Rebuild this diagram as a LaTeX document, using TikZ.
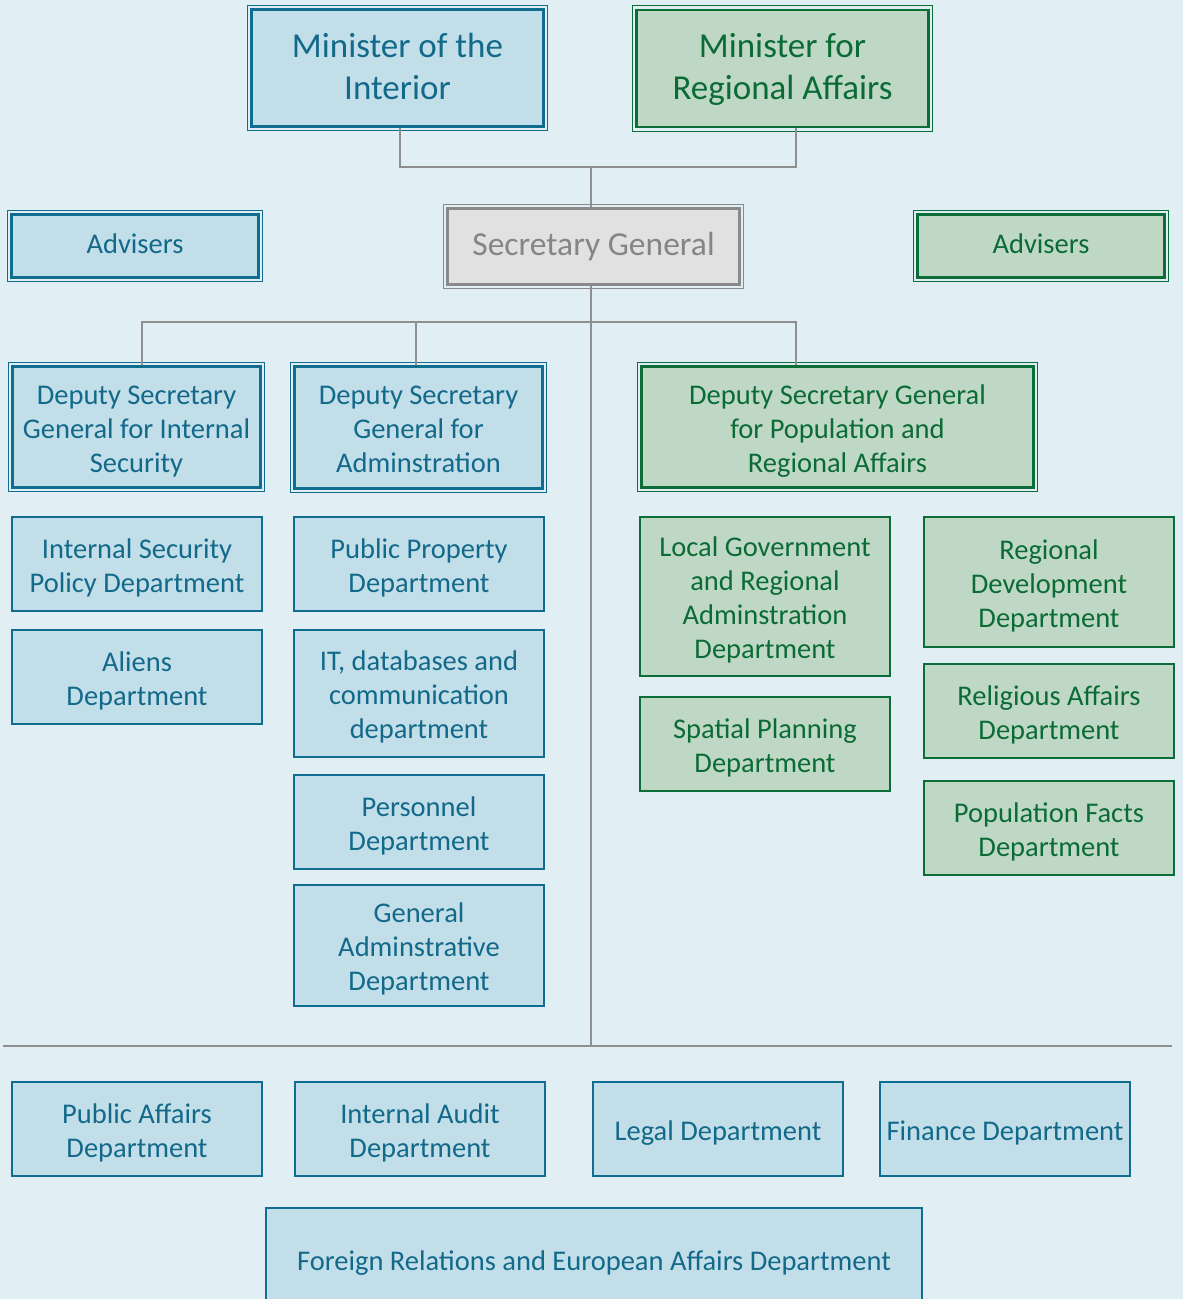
\documentclass[tikz,border=0pt]{standalone}
\usepackage{fontspec}
\setmainfont{Carlito}
\usetikzlibrary{calc}
\definecolor{bgblue}{HTML}{E1EEF4}
\definecolor{bluefill}{HTML}{C2DEE9}
\definecolor{blueline}{HTML}{0F6D8F}
\definecolor{bluetext}{HTML}{12698A}
\definecolor{greenfill}{HTML}{BFD8C6}
\definecolor{greenline}{HTML}{0B6E38}
\definecolor{greentext}{HTML}{0B6B35}
\definecolor{sgfill}{HTML}{E1E1E1}
\definecolor{sgline}{HTML}{8A8A8A}
\definecolor{sgtext}{HTML}{858585}
\definecolor{linegray}{HTML}{8F8F8F}
\tikzset{
  dept/.style={rectangle, inner sep=0pt, align=center, minimum width=250pt,
    minimum height=94pt, font=\fontsize{28.5}{34}\selectfont},
  l1/.style={text height=22pt, text depth=0pt},
  l2/.style={text height=56pt, text depth=0pt},
  l3/.style={text height=90pt, text depth=0pt},
  l4/.style={text height=124pt, text depth=0pt},
  bluedept/.style={dept, draw=blueline, line width=1.2pt, fill=bluefill, text=bluetext},
  greendept/.style={dept, draw=greenline, line width=1.2pt, fill=greenfill, text=greentext},
  bluehead/.style={bluedept, line width=2.6pt, minimum width=248pt, minimum height=121pt},
  greenhead/.style={greendept, line width=2.6pt, minimum width=248pt, minimum height=121pt},
  minister/.style={font=\fontsize{35}{42}\selectfont, minimum width=292pt, minimum height=117pt,
    text height=62pt, text depth=0pt},
  conn/.style={draw=linegray, line width=1.3pt},
  bluerim/.style={draw=blueline, line width=1pt},
  greenrim/.style={draw=greenline, line width=1pt},
  sgrim/.style={draw=sgline, line width=1pt}
}

\begin{document}
\begin{tikzpicture}[x=1pt, y=-1pt]
    \fill[bgblue] (0,0) rectangle (1183,1299);
    \useasboundingbox (0,0) rectangle (1183,1299);
    \clip (0,0) rectangle (1183,1299);
    % ministers and secretary general
    \node[bluehead, minister] (mint) at (397.5,68) {Minister of the\\Interior};
    \node[greenhead, minister] (minr) at (782.5,68.5) {Minister for\\Regional Affairs};
    \node[bluehead, l1, text height=14pt, minimum height=63pt, minimum width=247pt] (advl) at (135,246) {Advisers};
    \node[greenhead, l1, text height=14pt, minimum height=63pt, minimum width=247pt] (advr) at (1041,246) {Advisers};
    \node[dept, l1, text height=17pt, draw=sgline, line width=2.6pt, fill=sgfill, text=sgtext, minimum width=292pt,
        minimum height=76pt, font=\fontsize{33.5}{40}\selectfont] (sg) at (593.5,246.5) {Secretary General};
    % deputy secretaries general
    \node[bluehead, l3] (depi) at (136.5,427) {Deputy Secretary\\General for Internal\\Security};
    \node[bluehead, l3, minimum height=122pt] (depa) at (418.5,427.5) {Deputy Secretary\\General for\\Adminstration};
    \node[greenhead, l3, minimum width=392pt] (depp) at (837.5,427) {Deputy Secretary General\\for Population and\\Regional Affairs};
    % departments
    \node[bluedept, l2] (isp) at (137,564) {Internal Security\\Policy Department};
    \node[bluedept, l2] (alien) at (137,677) {Aliens\\Department};
    \node[bluedept, l2] (pubprop) at (419,564) {Public Property\\Department};
    \node[bluedept, l3, minimum height=127pt] (itdb) at (419,693.5) {IT, databases and\\communication\\department};
    \node[bluedept, l2] (pers) at (419,822) {Personnel\\Department};
    \node[bluedept, l3, minimum height=121pt] (genadm) at (419,945.5) {General\\Adminstrative\\Department};
    \node[greendept, l4, minimum height=159pt] (locgov) at (765,596.5) {Local Government\\and Regional\\Adminstration\\Department};
    \node[greendept, l2] (spatial) at (765,744) {Spatial Planning\\Department};
    \node[greendept, l3, minimum height=130pt] (regdev) at (1049,582) {Regional\\Development\\Department};
    \node[greendept, l2] (relig) at (1049,711) {Religious Affairs\\Department};
    \node[greendept, l2] (popfact) at (1049,828) {Population Facts\\Department};
    % bottom row
    \node[bluedept, l2] (pubaff) at (137,1129) {Public Affairs\\Department};
    \node[bluedept, l2] (audit) at (420,1129) {Internal Audit\\Department};
    \node[bluedept, l1] (legal) at (718,1129) {Legal Department};
    \node[bluedept, l1] (finance) at (1005,1129) {Finance Department};
    \node[bluedept, l1, minimum width=656pt, minimum height=102pt] (foreign) at (594,1259) {Foreign Relations and European Affairs Department};
    % outer rims
    \foreach \n in {mint,advl,depi,depa}
        \draw[bluerim] ([xshift=-3pt,yshift=3pt]\n.north west) rectangle ([xshift=3pt,yshift=-3pt]\n.south east);
    \foreach \n in {minr,advr,depp}
        \draw[greenrim] ([xshift=-3pt,yshift=3pt]\n.north west) rectangle ([xshift=3pt,yshift=-3pt]\n.south east);
    \draw[sgrim] ([xshift=-3pt,yshift=3pt]sg.north west) rectangle ([xshift=3pt,yshift=-3pt]sg.south east);
    % connectors
    \coordinate (top) at (591,167);
    \coordinate (mid) at (591,322);
    \coordinate (sep) at (591,1046);
    \coordinate (sepl) at (3,1046);
    \coordinate (sepr) at (1172,1046);
    \draw[conn] ([xshift=2.5pt]mint.south) |- (top) -| ([xshift=13.5pt]minr.south);
    \draw[conn] (top) -- (sg.north -| top);
    \draw[conn] (sg.south -| sep) -- (sep);
    \draw[conn] (mid) -| ([xshift=5.5pt]depi.north);
    \draw[conn] (mid) -| ([xshift=-2.5pt]depa.north);
    \draw[conn] (mid) -| ([xshift=-41.5pt]depp.north);
    \draw[conn] (sepl) -- (sepr);
\end{tikzpicture}
\end{document}
